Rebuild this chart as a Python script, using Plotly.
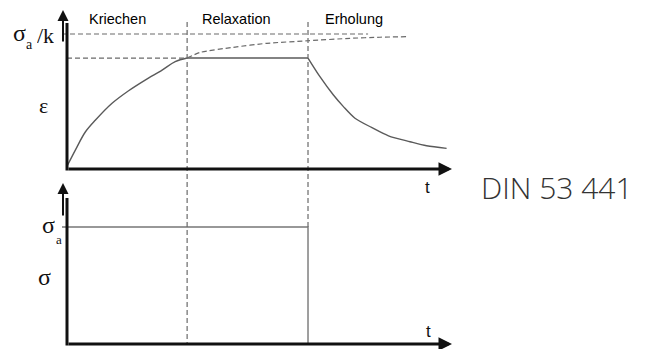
import plotly.graph_objects as go

W, H = 645, 349

# ---- data (arbitrary units: time t, strain eps normalised to sigma_a/k = 1, stress normalised to sigma_a = 1)
t_creep_end = 3.12
t_relax_end = 6.26

creep_t = [0.0, 0.22, 0.48, 0.74, 1.17, 1.60, 2.03, 2.47, 2.81, 3.12]
creep_eps = [0.020, 0.142, 0.276, 0.363, 0.487, 0.580, 0.659, 0.733, 0.795, 0.822]

relax_t = [3.12, 6.26]
relax_eps = [0.822, 0.822]

recov_t = [6.26, 6.57, 6.92, 7.18, 7.48, 7.91, 8.35, 8.91, 9.34, 9.86]
recov_eps = [0.822, 0.684, 0.548, 0.462, 0.376, 0.308, 0.246, 0.202, 0.172, 0.153]

asym_t = [3.12, 3.46, 4.31, 5.19, 6.26, 7.35, 8.13, 8.83]
asym_eps = [0.822, 0.864, 0.901, 0.931, 0.950, 0.968, 0.976, 0.980]

limit_t = [-0.13, 7.82]
limit_eps = [1.0, 1.0]

plateau_t = [0.0, 3.12]
plateau_eps = [0.822, 0.822]

stress_t = [-0.13, 6.26, 6.26]
stress_sig = [1.0, 1.0, 0.0]

phase_labels = ["Kriechen", "Relaxation", "Erholung"]
t_axis_end = 10.0

# ---- scales (pixel mapping)
PX_T = 38.5      # px per time unit
X0 = 67          # px of t = 0
Y0_TOP = 169     # px of eps = 0
PX_EPS = 135     # px per eps unit
Y0_BOT = 344     # px of sigma = 0
PX_SIG = 117     # px per sigma unit

xr = [-X0 / PX_T, (W - X0) / PX_T]
yr_top = [(Y0_TOP - H) / PX_EPS, Y0_TOP / PX_EPS]
yr_bot = [(Y0_BOT - H) / PX_SIG, Y0_BOT / PX_SIG]

def ey(py):
    return (Y0_TOP - py) / PX_EPS

def sy(py):
    return (Y0_BOT - py) / PX_SIG

curve_col = "#5a5a5a"
dash_col = "#6a6a6a"
DASH = "5px,3px"

fig = go.Figure()
fig.add_trace(go.Scatter(x=creep_t, y=creep_eps, mode="lines", line=dict(color=curve_col, width=1.4, shape="spline", smoothing=1.0), hoverinfo="skip"))
fig.add_trace(go.Scatter(x=relax_t, y=relax_eps, mode="lines", line=dict(color=curve_col, width=1.4), hoverinfo="skip"))
fig.add_trace(go.Scatter(x=recov_t, y=recov_eps, mode="lines", line=dict(color=curve_col, width=1.4, shape="spline", smoothing=0.8), hoverinfo="skip"))
fig.add_trace(go.Scatter(x=asym_t, y=asym_eps, mode="lines", line=dict(color=dash_col, width=1.2, dash=DASH, shape="spline", smoothing=0.6), hoverinfo="skip"))
fig.add_trace(go.Scatter(x=limit_t, y=limit_eps, mode="lines", line=dict(color=dash_col, width=1.2, dash=DASH), hoverinfo="skip"))
fig.add_trace(go.Scatter(x=plateau_t, y=plateau_eps, mode="lines", line=dict(color=dash_col, width=1.2, dash=DASH), hoverinfo="skip"))
fig.add_trace(go.Scatter(x=stress_t, y=stress_sig, yaxis="y2", mode="lines", line=dict(color="#777777", width=1.4), hoverinfo="skip"))

shapes = []
# phase boundaries (dashed)
shapes.append(dict(type="line", xref="x", yref="y", x0=t_creep_end, x1=t_creep_end, y0=ey(22), y1=ey(344),
                   line=dict(color=dash_col, width=1.2, dash=DASH)))
shapes.append(dict(type="line", xref="x", yref="y", x0=t_relax_end, x1=t_relax_end, y0=ey(22), y1=ey(227),
                   line=dict(color=dash_col, width=1.2, dash=DASH)))
# thick vertical axes
shapes.append(dict(type="line", xref="x", yref="y", x0=0, x1=0, y0=ey(23), y1=ey(170.5),
                   line=dict(color="#111111", width=3)))
shapes.append(dict(type="line", xref="x", yref="y2", x0=0, x1=0, y0=sy(198), y1=sy(345.5),
                   line=dict(color="#111111", width=3)))
fig.update_layout(shapes=shapes)

ann = []
# horizontal axes with arrows
ann.append(dict(x=t_axis_end, y=0, ax=0, ay=0, xref="x", yref="y", axref="x", ayref="y",
                showarrow=True, arrowhead=2, arrowsize=0.9, arrowwidth=3, arrowcolor="#111111", text=""))
ann.append(dict(x=t_axis_end, y=0, ax=0, ay=0, xref="x", yref="y2", axref="x", ayref="y2",
                showarrow=True, arrowhead=2, arrowsize=0.9, arrowwidth=3, arrowcolor="#111111", text=""))
# vertical arrows
ax_arrow_t = (63 - X0) / PX_T
ann.append(dict(x=ax_arrow_t, y=ey(10), ax=ax_arrow_t, ay=ey(43), xref="x", yref="y", axref="x", ayref="y",
                showarrow=True, arrowhead=2, arrowsize=1.1, arrowwidth=2, arrowcolor="#111111", text=""))
ann.append(dict(x=ax_arrow_t, y=sy(183), ax=ax_arrow_t, ay=sy(217), xref="x", yref="y2", axref="x", ayref="y2",
                showarrow=True, arrowhead=2, arrowsize=1.1, arrowwidth=2, arrowcolor="#111111", text=""))

def txt(s, px, py, size, family, color="#111111", weight=None, h=None):
    f = dict(size=size, family=family, color=color)
    if weight is not None:
        f["weight"] = weight
    d = dict(text=s, x=px / W, y=1 - py / H, xref="paper", yref="paper", showarrow=False,
             xanchor="center", yanchor="middle", font=f, borderpad=0)
    if h is not None:
        d["height"] = h
    ann.append(d)

sans = "Liberation Sans, Arial, sans-serif"
serif = "Liberation Serif, Times New Roman, serif"
for lab, px in zip(phase_labels, [117, 236, 354]):
    txt(lab, px, 19, 14.5, sans, color="#000000")
txt("t", 427, 187, 17, sans)
txt("t", 428, 331, 17, sans)
txt("σ", 19, 33, 24, serif, h=16)
txt("a", 29.5, 45, 14, serif, h=9)
txt("/k", 45, 35, 22, serif, h=18)
txt("ε", 43, 105, 22, serif)
txt("σ", 48, 225, 24, serif, h=16)
txt("a", 58.5, 240, 13, serif, h=9)
txt("σ", 44, 277, 24, serif)
txt("DIN 53 441", 557, 187, 30, "Open Sans, Lato, sans-serif", color="#333333", weight=300)

fig.update_layout(
    annotations=ann,
    width=W, height=H,
    margin=dict(l=0, r=0, t=0, b=0, pad=0),
    paper_bgcolor="white", plot_bgcolor="white",
    showlegend=False,
    xaxis=dict(range=xr, visible=False, fixedrange=True),
    yaxis=dict(range=yr_top, visible=False, fixedrange=True),
    yaxis2=dict(range=yr_bot, visible=False, overlaying="y", fixedrange=True),
)

fig.write_html("out.html", config={"displayModeBar": False},
               post_script="document.body.style.margin='0';document.body.style.overflow='hidden';")
